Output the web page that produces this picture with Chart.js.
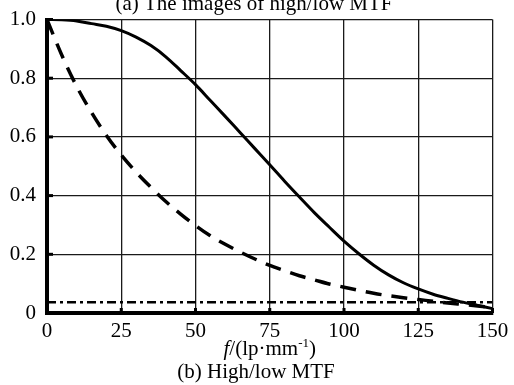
<!DOCTYPE html>
<html>
<head>
<meta charset="utf-8">
<script src="https://cdn.jsdelivr.net/npm/chart.js@4.4.1/dist/chart.umd.min.js"></script>
<style>
html, body { margin: 0; padding: 0; background: #fff; }
#chart { display: block; }
</style>
</head>
<body>
<canvas id="chart" width="514" height="385"></canvas>
<script>
// spatial frequency, lp/mm
const freq = [0, 5, 10, 15, 20, 25, 30, 35, 40, 45, 50, 55, 60, 65, 70, 75,
              80, 85, 90, 95, 100, 105, 110, 115, 120, 125, 130, 135, 140, 145, 150];
// high MTF (solid)
const highMtf = [1.000, 0.999, 0.995, 0.986, 0.977, 0.962, 0.940, 0.911, 0.873, 0.826,
                 0.778, 0.724, 0.670, 0.615, 0.560, 0.505, 0.449, 0.395, 0.342, 0.293,
                 0.245, 0.202, 0.163, 0.130, 0.103, 0.082, 0.064, 0.050, 0.037, 0.026, 0.015];
// low MTF (dashed)
const lowMtf = [1.000, 0.878, 0.772, 0.683, 0.605, 0.538, 0.480, 0.428, 0.380, 0.337,
                0.298, 0.263, 0.234, 0.208, 0.184, 0.162, 0.144, 0.127, 0.113, 0.099,
                0.088, 0.077, 0.067, 0.059, 0.052, 0.046, 0.040, 0.034, 0.029, 0.024, 0.019];
// threshold (dash-dot)
const floorFreq = [0, 150];
const floorMtf = [0.037, 0.037];

const xTickLabels = ['0', '25', '50', '75', '100', '125', '150'];
const yTickLabels = ['0', '0.2', '0.4', '0.6', '0.8', '1.0'];
const topCaption = '(a) The images of high/low MTF';
const bottomCaption = '(b) High/low MTF';

const FONT = '"Liberation Serif", "Times New Roman", serif';

function pts(xs, ys) {
    return xs.map((x, i) => ({x: x, y: ys[i]}));
}

// captions, x-axis title with italic f and superscript, inward tick stubs
const extras = {
    id: 'extras',
    afterDraw(chart) {
        const ctx = chart.ctx;
        const area = chart.chartArea;
        const xs = chart.scales.x, ys = chart.scales.y;
        ctx.save();
        ctx.fillStyle = '#000';
        ys.ticks.forEach(t => {
            const py = ys.getPixelForValue(t.value);
            ctx.fillRect(area.left, py - 1.5, 6, 3);
        });
        xs.ticks.forEach(t => {
            const px = xs.getPixelForValue(t.value);
            ctx.fillRect(px - 1.5, area.bottom - 5, 3, 5);
        });

        ctx.textBaseline = 'alphabetic';
        ctx.textAlign = 'center';
        ctx.font = '21px ' + FONT;
        ctx.fillText(topCaption, 254, 10);
        ctx.fillText(bottomCaption, 256, 378);

        // f/(lp·mm^-1)
        const parts = [
            {t: 'f', font: 'italic 21px ' + FONT, dy: 0},
            {t: '/(lp\u00b7mm', font: '21px ' + FONT, dy: 0},
            {t: '-1', font: '13px ' + FONT, dy: -8},
            {t: ')', font: '21px ' + FONT, dy: 0}
        ];
        let total = 0;
        parts.forEach(p => { ctx.font = p.font; p.w = ctx.measureText(p.t).width; total += p.w; });
        let x = (area.left + area.right) / 2 - total / 2;
        ctx.textAlign = 'left';
        parts.forEach(p => {
            ctx.font = p.font;
            ctx.fillText(p.t, x, 355 + p.dy);
            x += p.w;
        });
        ctx.restore();
    }
};

const ctx = document.getElementById('chart').getContext('2d');
const chart = new Chart(ctx, {
    type: 'line',
    data: {
        datasets: [
            {
                label: 'threshold',
                data: pts(floorFreq, floorMtf),
                borderColor: '#000',
                borderWidth: 2.5,
                borderDash: [9, 4, 3, 4],
                pointRadius: 0,
                fill: false
            },
            {
                label: 'low MTF',
                data: pts(freq, lowMtf),
                borderColor: '#000',
                borderWidth: 3.5,
                borderDash: [16, 10],
                pointRadius: 0,
                cubicInterpolationMode: 'monotone',
                fill: false
            },
            {
                label: 'high MTF',
                data: pts(freq, highMtf),
                borderColor: '#000',
                borderWidth: 3,
                pointRadius: 0,
                cubicInterpolationMode: 'monotone',
                fill: false
            }
        ]
    },
    options: {
        responsive: false,
        animation: false,
        layout: { padding: { top: 19.5, right: 21.5, left: 0, bottom: 0 } },
        plugins: {
            legend: { display: false },
            tooltip: { enabled: false }
        },
        scales: {
            x: {
                type: 'linear',
                min: 0,
                max: 150,
                afterFit: s => { s.height = 72; s.paddingLeft = 0; s.paddingRight = 0; },
                grid: { color: '#1a1a1a', lineWidth: 1.3, drawTicks: false },
                border: { color: '#000', width: 4 },
                ticks: {
                    stepSize: 25,
                    padding: 6,
                    color: '#000',
                    font: { family: FONT, size: 21 },
                    callback: (v) => xTickLabels[Math.round(v / 25)]
                }
            },
            y: {
                min: 0,
                max: 1,
                afterFit: s => { s.width = 47; s.paddingTop = 0; s.paddingBottom = 0; },
                grid: { color: '#1a1a1a', lineWidth: 1.3, drawTicks: false },
                border: { color: '#000', width: 4 },
                ticks: {
                    stepSize: 0.2,
                    padding: 11,
                    color: '#000',
                    font: { family: FONT, size: 21 },
                    callback: (v) => yTickLabels[Math.round(v / 0.2)]
                }
            }
        }
    },
    plugins: [extras]
});
</script>
</body>
</html>
